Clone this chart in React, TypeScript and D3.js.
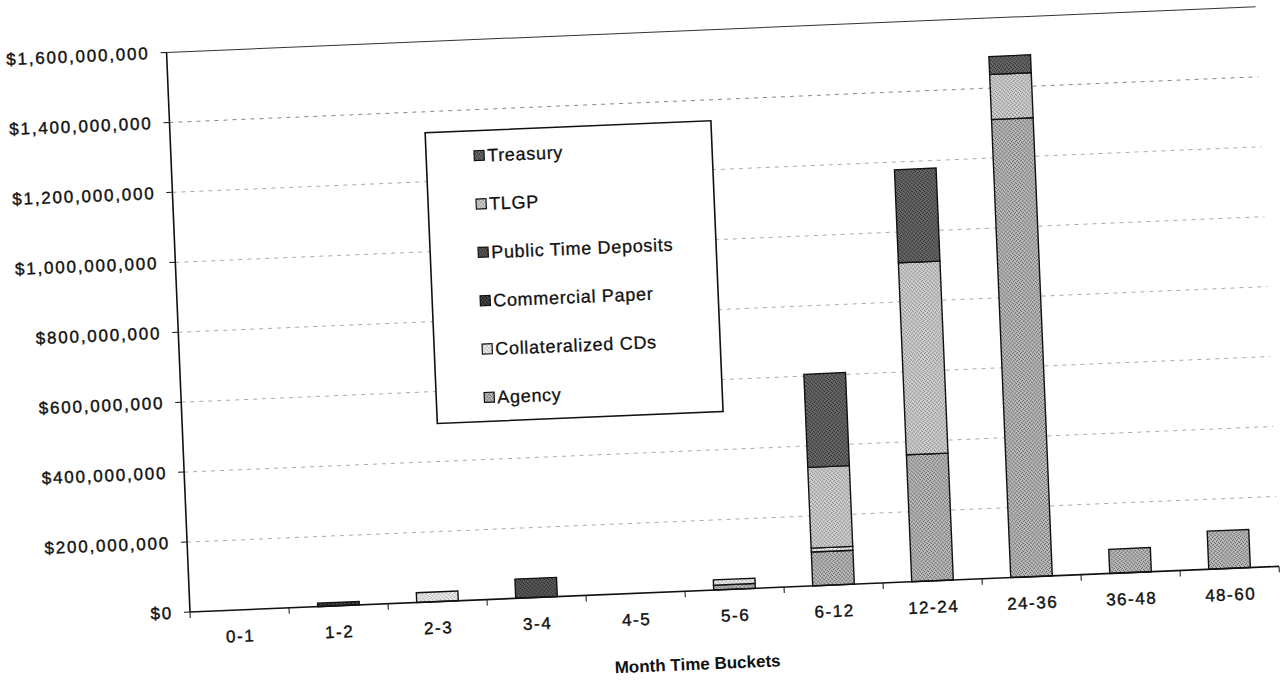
import { useEffect, useRef } from "react";
import * as d3 from "d3";

// month buckets on the x axis
const categories = ["0-1", "1-2", "2-3", "3-4", "4-5", "5-6", "6-12", "12-24", "24-36", "36-48", "48-60"];

// dollar amounts per bucket (in dollars)
const agency = [0, 0, 0, 0, 0, 14e6, 97e6, 363e6, 1310e6, 69e6, 109e6];
const collateralizedCDs = [0, 0, 28e6, 0, 0, 15e6, 11e6, 0, 0, 0, 0];
const commercialPaper = [0, 10e6, 0, 0, 0, 0, 0, 0, 0, 0, 0];
const publicTimeDeposits = [0, 0, 0, 55e6, 0, 0, 0, 0, 0, 0, 0];
const tlgp = [0, 0, 0, 0, 0, 0, 231e6, 549e6, 129e6, 0, 0];
const treasury = [0, 0, 0, 0, 0, 0, 266e6, 266e6, 51e6, 0, 0];

const yTicks = [0, 200e6, 400e6, 600e6, 800e6, 1000e6, 1200e6, 1400e6, 1600e6];

// stacking order bottom -> top
const seriesNames = ["Agency", "Collateralized CDs", "Commercial Paper", "Public Time Deposits", "TLGP", "Treasury"];
const seriesValues = [agency, collateralizedCDs, commercialPaper, publicTimeDeposits, tlgp, treasury];
const seriesColors = ["#bdbdbd", "#f0f0f0", "#222", "#5a5a5a", "#d2d2d2", "#6a6a6a"];
const dotColors = ["#555", "#999", "#777", "#222", "#777", "#222"];

const App = () => {
  const ref = useRef<SVGSVGElement | null>(null);

  useEffect(() => {
    const root = d3.select(ref.current);
    root.selectAll("*").remove();

    const W = 1090;
    const H = 560;
    const font = "'Liberation Sans', Arial, sans-serif";

    // stipple textures, like the scanned print
    const defs = root.append("defs");
    seriesColors.forEach((c, k) => {
      const p = defs
        .append("pattern")
        .attr("id", `tex${k}`)
        .attr("width", 4)
        .attr("height", 4)
        .attr("patternUnits", "userSpaceOnUse");
      p.append("rect").attr("width", 4).attr("height", 4).attr("fill", c);
      [[0, 0], [2, 1], [1, 3], [3, 2]].forEach(([dx, dy]) =>
        p.append("rect").attr("x", dx).attr("y", dy).attr("width", 1).attr("height", 1).attr("fill", dotColors[k])
      );
    });

    // the scan is tilted a little, so the whole chart is rotated
    const g = root.append("g").attr("transform", "translate(190,612) rotate(-2.4)");

    const x = d3.scaleBand().domain(categories).range([0, W]).paddingInner(0.58).paddingOuter(0.29);
    const y = d3.scaleLinear().domain([0, 1600e6]).range([0, -H]);

    // gridlines
    g.selectAll(".grid")
      .data(yTicks.filter((t) => t > 0))
      .enter()
      .append("line")
      .attr("x1", 0)
      .attr("x2", W)
      .attr("y1", (d) => y(d))
      .attr("y2", (d) => y(d))
      .attr("stroke", (d) => (d === 1600e6 ? "#333" : d === 1400e6 ? "#888" : "#aaa"))
      .attr("stroke-width", 1)
      .attr("stroke-dasharray", (d) => (d === 1600e6 ? null : "4,5"));

    // stacked bars
    const rows = categories.map((c, i) => {
      const r: any = { cat: c };
      seriesNames.forEach((s, k) => (r[s] = seriesValues[k][i]));
      return r;
    });
    const stacked = d3.stack().keys(seriesNames)(rows);

    stacked.forEach((layer: any, k) => {
      g.append("g")
        .selectAll("rect")
        .data(layer.filter((d: any) => d[1] - d[0] > 0))
        .enter()
        .append("rect")
        .attr("x", (d: any) => x(d.data.cat)!)
        .attr("width", x.bandwidth())
        .attr("y", (d: any) => y(d[1]))
        .attr("height", (d: any) => y(d[0]) - y(d[1]))
        .attr("fill", `url(#tex${k})`)
        .attr("stroke", "#111")
        .attr("stroke-width", 1.4);
    });

    // axes
    g.append("line").attr("x1", 0).attr("x2", 0).attr("y1", 0).attr("y2", -H).attr("stroke", "#111").attr("stroke-width", 1.6);
    g.append("line").attr("x1", 0).attr("x2", W).attr("y1", 0).attr("y2", 0).attr("stroke", "#111").attr("stroke-width", 1.6);

    g.selectAll(".ytick")
      .data(yTicks)
      .enter()
      .append("line")
      .attr("x1", -6)
      .attr("x2", 0)
      .attr("y1", (d) => y(d))
      .attr("y2", (d) => y(d))
      .attr("stroke", "#111");

    const fmt = d3.format("$,");
    g.selectAll(".ylab")
      .data(yTicks)
      .enter()
      .append("text")
      .attr("x", -17)
      .attr("y", (d) => y(d))
      .attr("dy", "0.35em")
      .attr("text-anchor", "end")
      .attr("font-family", font)
      .attr("font-size", 17)
      .attr("letter-spacing", 1.8)
      .attr("fill", "#111")
      .attr("stroke", "#111")
      .attr("stroke-width", 0.4)
      .text((d) => fmt(d));

    // x ticks between buckets
    g.selectAll(".xtick")
      .data(d3.range(categories.length + 1))
      .enter()
      .append("line")
      .attr("x1", (i) => (i * W) / categories.length)
      .attr("x2", (i) => (i * W) / categories.length)
      .attr("y1", 0)
      .attr("y2", 6)
      .attr("stroke", "#111");

    g.selectAll(".xlab")
      .data(categories)
      .enter()
      .append("text")
      .attr("x", (d) => x(d)! + x.bandwidth() / 2)
      .attr("y", 32)
      .attr("text-anchor", "middle")
      .attr("font-family", font)
      .attr("font-size", 17)
      .attr("letter-spacing", 1.5)
      .attr("fill", "#111")
      .attr("stroke", "#111")
      .attr("stroke-width", 0.4)
      .text((d) => d);

    g.append("text")
      .attr("x", 505)
      .attr("y", 79)
      .attr("text-anchor", "middle")
      .attr("font-family", font)
      .attr("font-size", 17)
      .attr("font-weight", "bold")
      .attr("fill", "#111")
      .text("Month Time Buckets");

    // legend (top series listed first)
    const legend = g.append("g").attr("transform", "translate(255,-469)");
    legend.append("rect").attr("width", 286).attr("height", 291).attr("fill", "#fff").attr("stroke", "#111").attr("stroke-width", 1.6);
    const order = d3.range(seriesNames.length).reverse();
    order.forEach((k, i) => {
      const ly = 25 + i * 48.4;
      legend
        .append("rect")
        .attr("x", 48)
        .attr("y", ly - 5)
        .attr("width", 10)
        .attr("height", 10)
        .attr("fill", `url(#tex${k})`)
        .attr("stroke", "#111")
        .attr("stroke-width", 1.2);
      legend
        .append("text")
        .attr("x", 61)
        .attr("y", ly)
        .attr("dy", "0.35em")
        .attr("font-family", font)
        .attr("font-size", 18)
        .attr("letter-spacing", 0.7)
        .attr("fill", "#111")
        .attr("stroke", "#111")
        .attr("stroke-width", 0.3)
        .text(seriesNames[k]);
    });
  }, []);

  return (
    <svg
      ref={ref}
      width={1284}
      height={683}
      style={{ position: "absolute", left: 0, top: 0, background: "#fff" }}
    />
  );
};

export default App;
